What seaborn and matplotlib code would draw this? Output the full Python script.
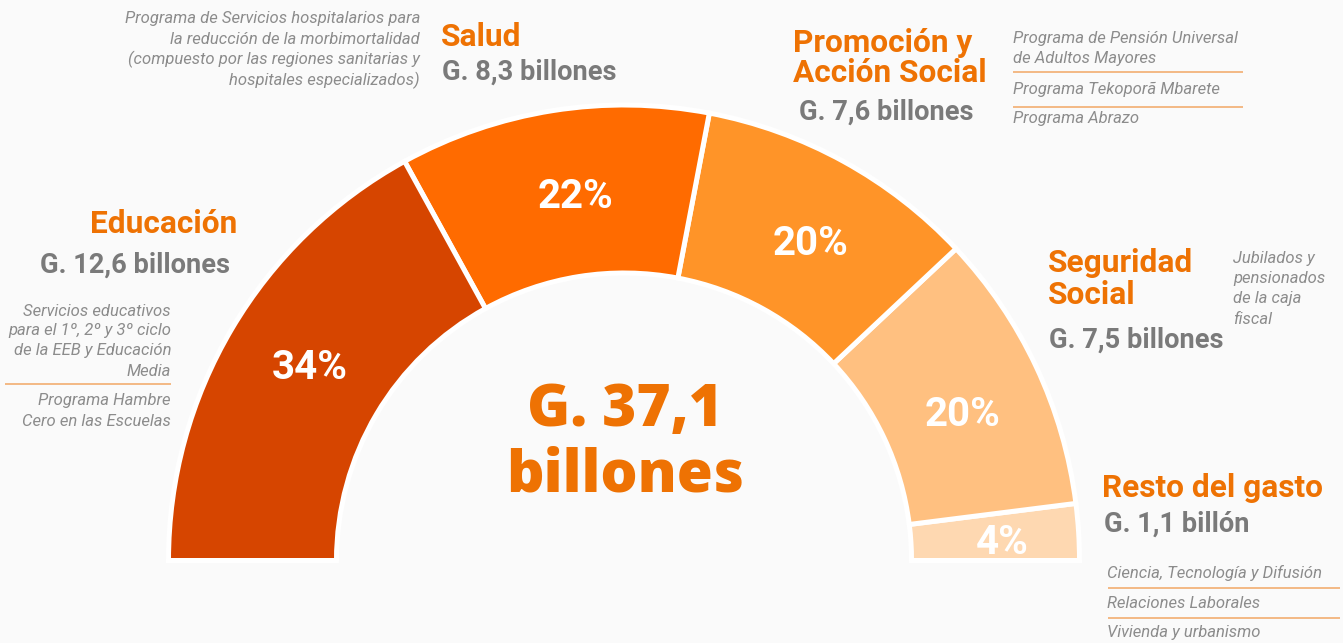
import matplotlib
matplotlib.use("Agg")
import matplotlib.pyplot as plt
import numpy as np
import seaborn as sns

# ---- data -------------------------------------------------------------
categories = ["Resto del gasto", "Seguridad\nSocial", "Promoción y\nAcción Social", "Salud", "Educación"]
shares_pct = [4, 20, 20, 22, 34]
amounts = ["G. 1,1 billón", "G. 7,5 billones", "G. 7,6 billones", "G. 8,3 billones", "G. 12,6 billones"]
total_label = ["G. 37,1", "billones"]
programs = {
    "Educación": [["Servicios educativos", "para el 1º, 2º y 3º ciclo", "de la EEB y Educación", "Media"],
                  ["Programa Hambre", "Cero en las Escuelas"]],
    "Salud": [["Programa de Servicios hospitalarios para", "la reducción de la morbimortalidad",
               "(compuesto por las regiones sanitarias y", "hospitales especializados)"]],
    "Promoción": [["Programa de Pensión Universal", "de Adultos Mayores"],
                  ["Programa Tekoporã Mbarete"], ["Programa Abrazo"]],
    "Seguridad": [["Jubilados y", "pensionados", "de la caja", "fiscal"]],
    "Resto": [["Ciencia, Tecnología y Difusión"], ["Relaciones Laborales"], ["Vivienda y urbanismo"]],
}
segment_colors = ["#FED8B1", "#FFC080", "#FF9428", "#FF6B00", "#D64500"]

# ---- style ------------------------------------------------------------
BG = "#FAFAFA"
ORANGE = "#EE7203"
GRAY = "#7A7A7A"
LIGHT = "#8C8C8C"
RULE = "#F2A765"

sns.set_theme(style="white", rc={"figure.facecolor": BG, "axes.facecolor": BG})
plt.rcParams["font.family"] = ["Roboto", "DejaVu Sans"]

W, H = 1343, 643
fig = plt.figure(figsize=(W / 100, H / 100), dpi=100)
ax = fig.add_axes([0, 0, 1, 1])


def Y(y):
    return H - y


# ---- half donut -------------------------------------------------------
cx, cy = 624, Y(558) - 2.5
wedges, _ = ax.pie(
    shares_pct + [sum(shares_pct)],
    startangle=0, counterclock=True, radius=455.5, center=(cx, cy),
    colors=segment_colors + [BG],
    wedgeprops=dict(width=168, edgecolor="white", linewidth=3.6),
)
wedges[-1].set_visible(False)

pct_size = 29
cap_px = pct_size * 100 / 72 * 0.711
for w, pct in zip(wedges[:-1], shares_pct):
    span = w.theta2 - w.theta1
    mid = np.deg2rad((w.theta1 + w.theta2) / 2 - 1.4)
    r = 370 if span > 20 else 379
    px = cx + r * np.cos(mid)
    # keep the label of a thin slice inside its band
    py = cy + max(r * np.sin(mid), cap_px / 2 + 6)
    ax.text(px, py - cap_px / 2, f"{pct}%",
            ha="center", va="baseline", color="white", fontsize=pct_size, fontweight="bold")

ax.set_xlim(0, W)
ax.set_ylim(0, H)
ax.set_aspect("auto")
ax.axis("off")

# ---- centre total -----------------------------------------------------
center_font = dict(ha="center", va="center", color=ORANGE, fontsize=42,
                   fontweight="heavy", family=["Open Sans", "DejaVu Sans"])
ax.text(625, Y(410), total_label[0], **center_font)
ax.text(625, Y(476), total_label[1], **center_font)


# ---- helpers ----------------------------------------------------------
def lines(x, ys, texts, ha, **kw):
    for yy, t in zip(ys, texts):
        ax.text(x, Y(yy), t, ha=ha, va="center", **kw)


title_kw = dict(color=ORANGE, fontsize=22.8, fontweight="bold")
value_kw = dict(color=GRAY, fontsize=19.6, fontweight="bold")
note_kw = dict(color=LIGHT, fontsize=12, fontstyle="italic", fontweight="normal")


def rule(x0, x1, y):
    ax.plot([x0, x1], [Y(y), Y(y)], color=RULE, lw=1.1, solid_capstyle="butt")


# Educación
lines(237, [224], ["Educación"], "right", **title_kw)
lines(230, [265], [amounts[4]], "right", **value_kw)
lines(171, [312, 331, 351, 372], programs["Educación"][0], "right", **note_kw)
rule(5, 171, 384)
lines(171, [401, 422], programs["Educación"][1], "right", **note_kw)

# Salud
lines(441, [37], ["Salud"], "left", **title_kw)
lines(442, [72], [amounts[3]], "left", **value_kw)
lines(420, [19, 39, 59, 80], programs["Salud"][0], "right", **note_kw)

# Promoción y Acción Social
lines(793, [43, 73], categories[2].split("\n"), "left", **title_kw)
lines(799, [112], [amounts[2]], "left", **value_kw)
lines(1013, [39, 59], programs["Promoción"][0], "left", **note_kw)
rule(1013, 1243, 72)
lines(1013, [89], programs["Promoción"][1], "left", **note_kw)
rule(1013, 1243, 107)
lines(1013, [118], programs["Promoción"][2], "left", **note_kw)

# Seguridad Social
lines(1048, [263, 295], categories[1].split("\n"), "left", **title_kw)
lines(1049, [340], [amounts[1]], "left", **value_kw)
lines(1233, [258, 278, 298, 319], programs["Seguridad"][0], "left", **note_kw)

# Resto del gasto
lines(1102, [488], [categories[0]], "left", **title_kw)
lines(1104, [524], [amounts[0]], "left", **value_kw)
lines(1107, [573], programs["Resto"][0], "left", **note_kw)
rule(1108, 1340, 588)
lines(1107, [603], programs["Resto"][1], "left", **note_kw)
rule(1108, 1340, 618)
lines(1107, [632], programs["Resto"][2], "left", **note_kw)

fig.savefig("out.png", dpi=100, facecolor=BG)
